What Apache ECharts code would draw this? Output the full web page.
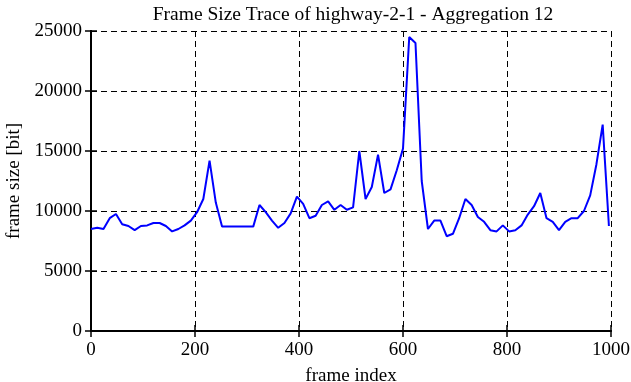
<!DOCTYPE html>
<html><head><meta charset="utf-8">
<script src="https://cdn.jsdelivr.net/npm/echarts@6/dist/echarts.min.js"></script>
<style>html,body{margin:0;padding:0;background:#fff}#c{width:631px;height:382px}</style>
</head><body><div id="c"></div>
<script>
const titleText = "Frame Size Trace of highway-2-1 - Aggregation 12";
const xName = "frame index";
const yName = "frame size [bit]";
const frames = [0,12,24,36,48,60,72,84,96,108,120,132,144,156,168,180,192,204,216,228,240,252,264,276,288,300,312,324,336,348,360,372,384,396,408,420,432,444,456,468,480,492,504,516,528,540,552,564,576,588,600,612,624,636,648,660,672,684,696,708,720,732,744,756,768,780,792,804,816,828,840,852,864,876,888,900,912,924,936,948,960,972,984,996];
const frameSize = [8500,8600,8500,9400,9750,8900,8750,8400,8750,8800,9000,9000,8750,8300,8500,8800,9200,9900,11000,14200,10700,8700,8700,8700,8700,8700,8700,10500,9900,9200,8600,9000,9800,11200,10600,9400,9600,10500,10800,10100,10500,10100,10300,15000,11000,12000,14700,11500,11800,13400,15200,24500,24000,12500,8500,9200,9200,7900,8100,9400,11000,10500,9500,9100,8400,8300,8800,8300,8400,8800,9700,10400,11500,9400,9100,8400,9100,9400,9400,10000,11300,13900,17200,8750];
const xTicks = [0,200,400,600,800,1000];
const yTicks = [0,5000,10000,15000,20000,25000];

const font = "Liberation Serif";
const chart = echarts.init(document.getElementById('c'), null, {renderer:'canvas'});
const axisCommon = {
  axisLine:{show:true, lineStyle:{color:'#000', width:2}},
  axisTick:{show:true, inside:true, length:6, lineStyle:{color:'#000', width:1.5}},
  splitLine:{show:false}
};
const plain = v => String(v);
chart.setOption({
  animation:false,
  backgroundColor:'#fff',
  title:{text:titleText, left:348, textAlign:'center', top:0, textStyle:{fontFamily:font, fontSize:19.5, fontWeight:'normal', color:'#000'}},
  grid:{left:91, right:20, top:31, bottom:51, containLabel:false, outerBoundsMode:'none'},
  xAxis:[
    Object.assign({type:'value', min:xTicks[0], max:xTicks[xTicks.length-1], interval:200, position:'bottom',
      name:xName, nameLocation:'middle', nameGap:36, nameTextStyle:{fontFamily:font, fontSize:19, color:'#000'},
      axisLabel:{fontFamily:font, fontSize:19, color:'#000', margin:10, formatter:plain}}, axisCommon,
      {splitLine:{show:true, lineStyle:{color:'#000', type:[6,4], width:1}}}),
    Object.assign({type:'value', min:0, max:1000, interval:200, position:'top', axisLabel:{show:false}}, axisCommon)
  ],
  yAxis:[
    Object.assign({type:'value', min:yTicks[0], max:yTicks[yTicks.length-1], interval:5000, position:'left',
      name:yName, nameLocation:'middle', nameGap:66, nameTextStyle:{fontFamily:font, fontSize:19, color:'#000'},
      axisLabel:{fontFamily:font, fontSize:19, color:'#000', margin:9, formatter:plain}}, axisCommon,
      {splitLine:{show:true, lineStyle:{color:'#000', type:[6,4], width:1}}}),
    Object.assign({type:'value', min:0, max:25000, interval:5000, position:'right', axisLabel:{show:false}}, axisCommon)
  ],
  series:[{
    type:'line', xAxisIndex:0, yAxisIndex:0, showSymbol:false, symbol:'none',
    lineStyle:{color:'#0000ff', width:2}, data: frames.map((f,i)=>[f, frameSize[i]])
  }]
});
</script></body></html>
